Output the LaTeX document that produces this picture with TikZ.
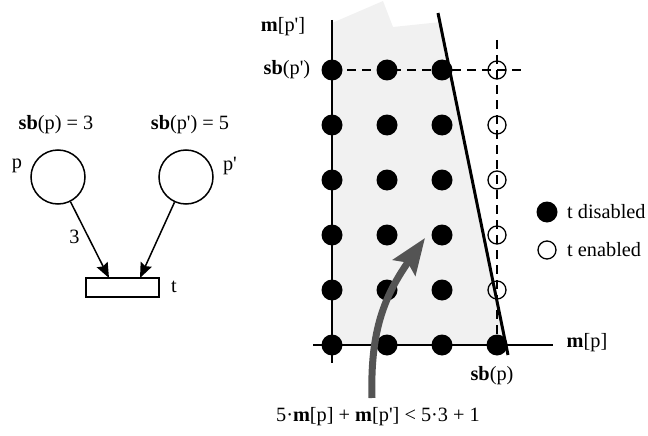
\documentclass[tikz,border=0pt]{standalone}
\usepackage{fontspec}
\setmainfont{Liberation Serif}
\usetikzlibrary{arrows.meta}
\newcommand{\qq}{\textquotesingle}
\begin{document}
\begin{tikzpicture}[x=1pt,y=-1pt, font=\fontsize{20.3}{24}\selectfont,
  place/.style={circle, draw, line width=1.5pt, minimum size=54pt, inner sep=0pt},
  trans/.style={rectangle, draw, line width=1.3pt, minimum width=73pt, minimum height=19pt, inner sep=0pt},
  arc/.style={line width=1.5pt, -{Stealth[length=15pt,width=12pt,inset=2pt]}},
  dis/.style={circle, fill=black, minimum size=21pt, inner sep=0pt},
  en/.style={circle, draw, line width=1.3pt, minimum size=18pt, inner sep=0pt},
  lbl/.style={inner sep=0pt},
  axisline/.style={line width=1.5pt},
  dashline/.style={line width=1.5pt, dash pattern=on 9pt off 6pt},
  bound/.style={line width=3pt},
  trend/.style={line width=7pt, draw=black!67, -{Stealth[length=36pt,width=27pt,inset=6pt]}}]
\useasboundingbox (0,0) rectangle (648,436);
% ---- left Petri net ----
\node[place] (p) at (58,177) {};
\node[place] (pp) at (186,177) {};
\node[trans] (t) at (122.5,287.5) {};
\node[lbl] at (17,166) {p};
\node[lbl] at (230,166) {p\qq};
\node[lbl] at (174,287) {t};
\node[lbl] at (56,125) {\textbf{sb}(p) = 3};
\node[lbl] at (190,125) {\textbf{sb}(p\qq) = 5};
\coordinate (t1) at (109,278);
\coordinate (t2) at (140,278);
\draw[arc] (p) -- node[lbl, pos=0.46, left=8pt] {3} (t1);
\draw[arc] (pp) -- (t2);
% ---- right diagram ----
\fill[gray!11] (332,23) -- (383,1) -- (393,27) -- (441,22) -- (506,345) -- (332,345) -- cycle;
\coordinate (ytop) at (332,20);
\coordinate (ybot) at (332,363);
\coordinate (xl) at (313,345);
\coordinate (xr) at (553,345);
\draw[axisline] (ytop) -- (ybot);
\draw[axisline] (xl) -- (xr);
\coordinate (hl) at (332,70);
\coordinate (hr) at (524,70);
\coordinate (vt) at (497,40);
\coordinate (vb) at (497,345);
\draw[dashline] (hl) -- (hr);
\draw[dashline] (vt) -- (vb);
\coordinate (lt) at (438,13);
\coordinate (lb) at (508,355);
\draw[bound] (lt) -- (lb);
\foreach \c/\x in {0/332,1/387,2/442}{
  \foreach \r/\y in {0/70,1/125,2/180,3/235,4/290,5/345}{
    \node[dis] (d\c\r) at (\x,\y) {};
  }
}
\foreach \r/\y in {0/70,1/125,2/180,3/235,4/290}{
  \node[en] (e\r) at (497,\y) {};
}
\node[dis] (e5) at (497,345) {};
% legend
\node[dis] (ld) at (547,212) {};
\node[en] (le) at (547,250) {};
\node[lbl, anchor=west] at (567,212) {t disabled};
\node[lbl, anchor=west] at (567,250) {t enabled};
% labels
\node[lbl] at (283,27) {\textbf{m}[p\qq]};
\node[lbl] at (287,70) {\textbf{sb}(p\qq)};
\node[lbl] at (587,343) {\textbf{m}[p]};
\node[lbl] at (492,376) {\textbf{sb}(p)};
\node[lbl] (ineq) at (378,417) {5·\textbf{m}[p] + \textbf{m}[p\qq] < 5·3 + 1};
% gray arrow
\coordinate (as) at (372,398);
\coordinate (ae) at (425,238);
\draw[trend] (as) .. controls (370,330) and (385,295) .. (ae);
\end{tikzpicture}
\end{document}
